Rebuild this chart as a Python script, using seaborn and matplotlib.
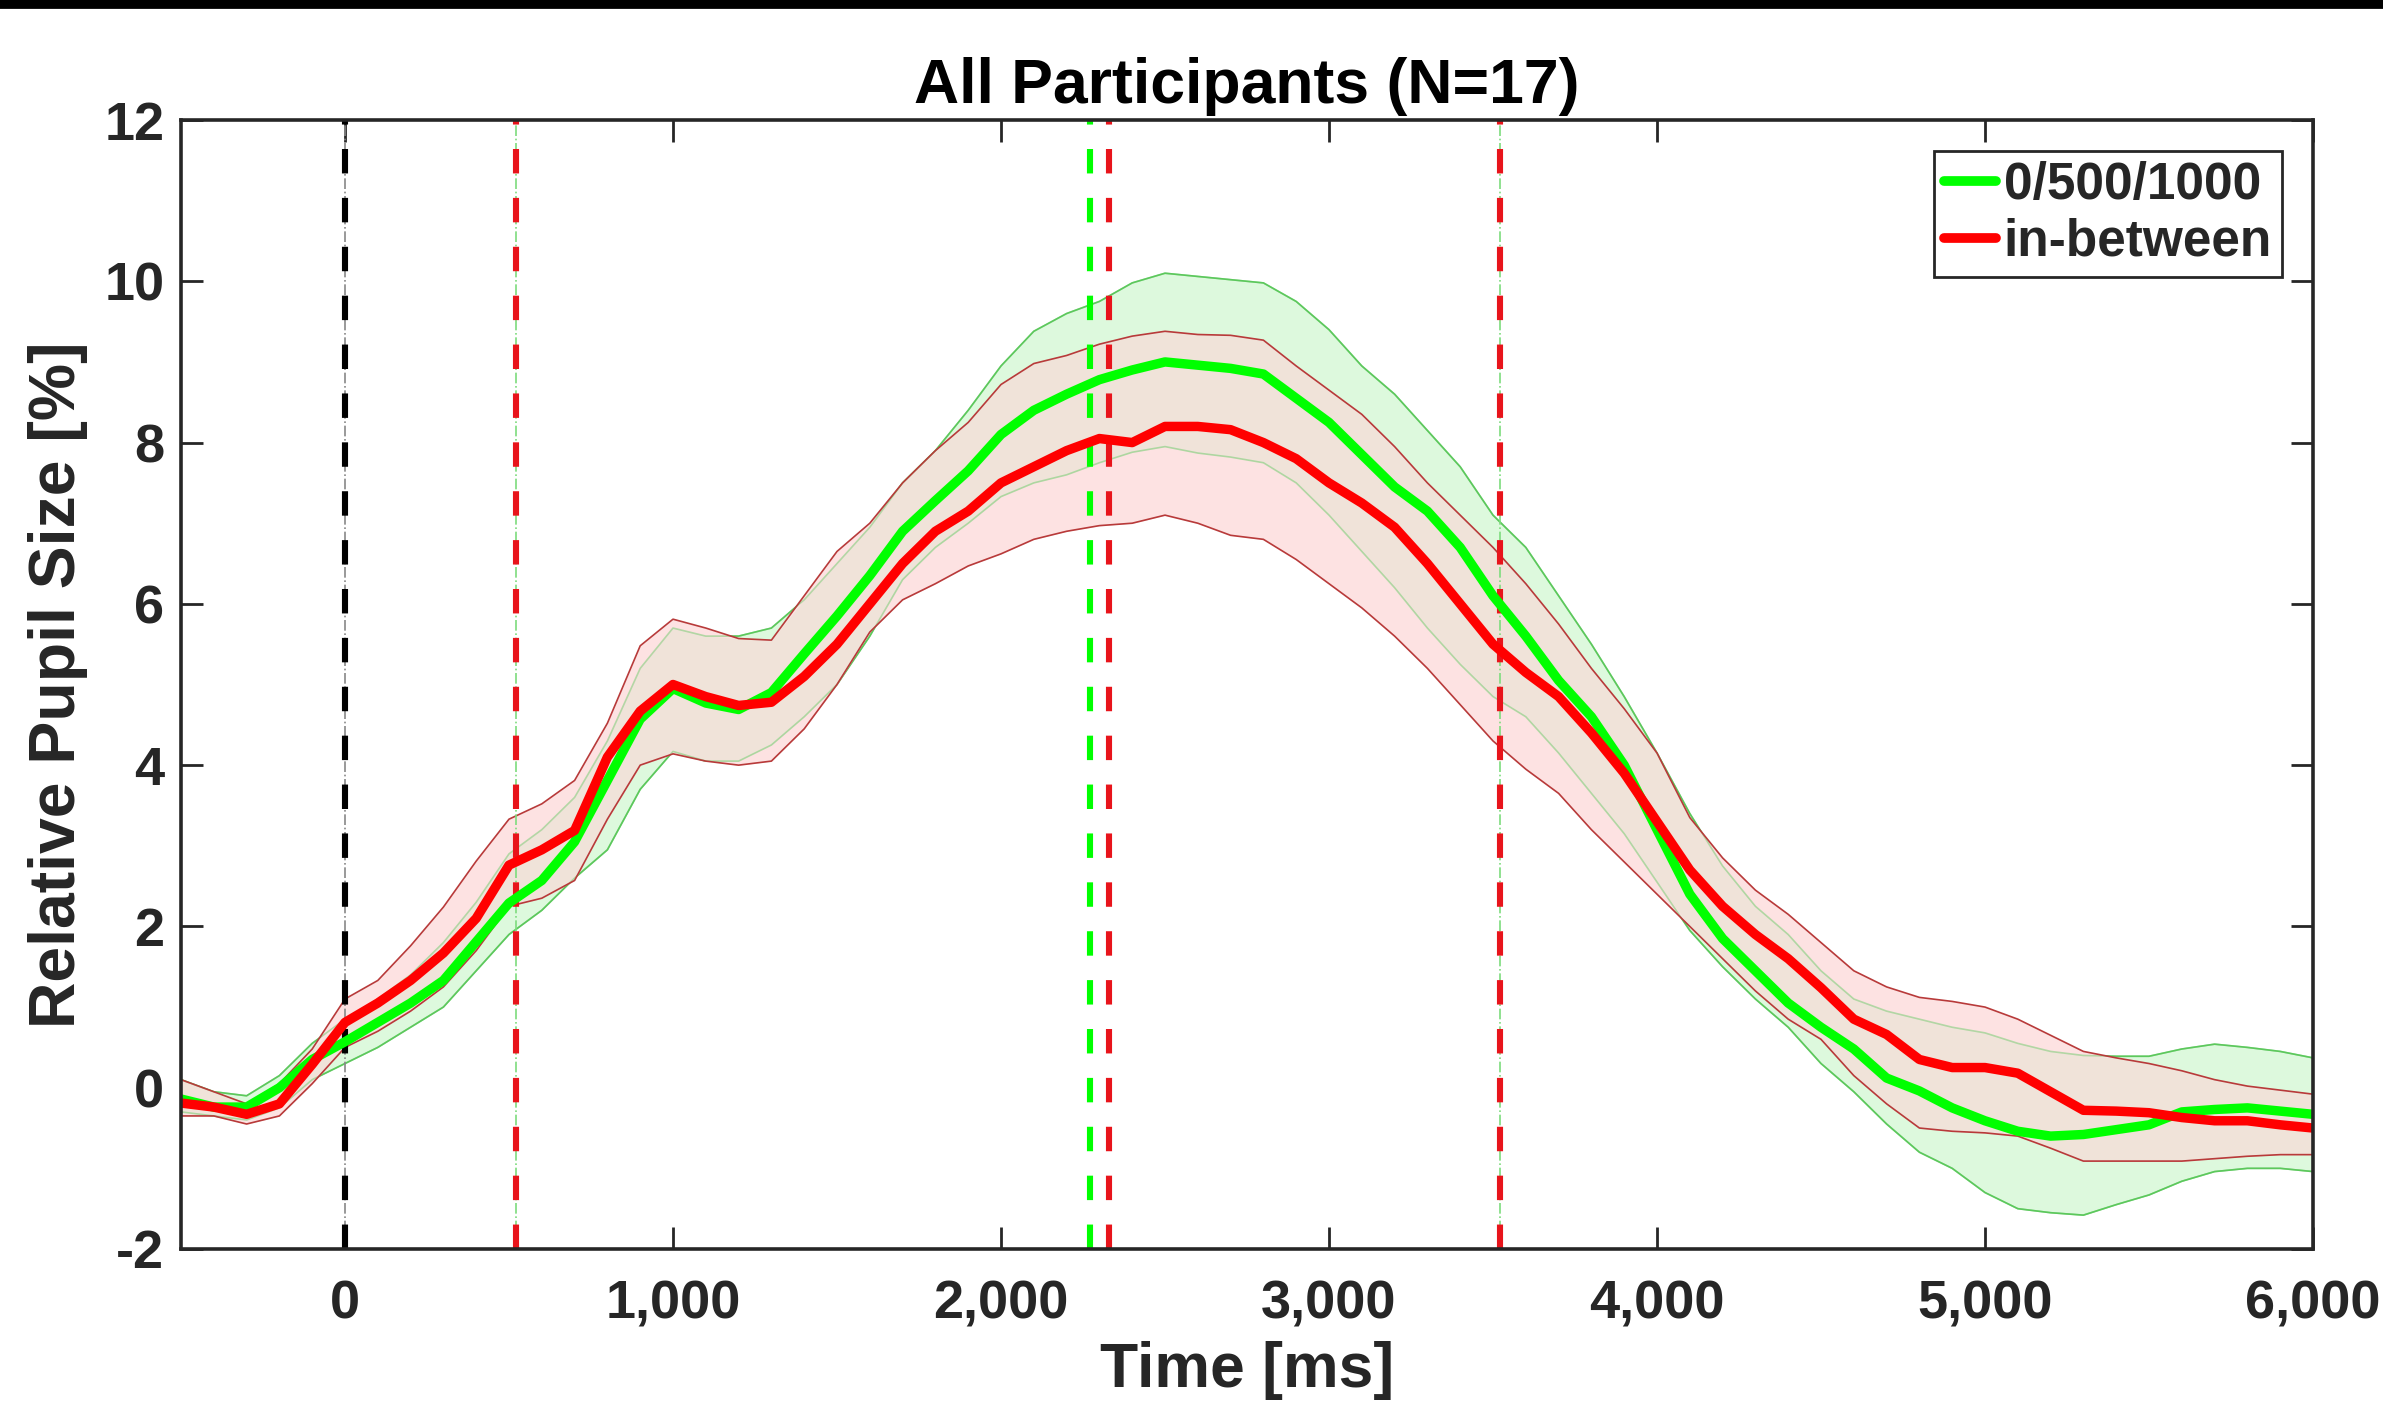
import matplotlib
matplotlib.use("Agg")
import matplotlib.pyplot as plt
from matplotlib.patches import Rectangle
from matplotlib.ticker import FuncFormatter
import numpy as np
import pandas as pd
import seaborn as sns

# time axis, one value every 100 ms
time_ms = list(range(-500, 6001, 100))

# "0/500/1000" condition
green_mean = [-0.14, -0.24, -0.24, 0.0, 0.35, 0.57, 0.81, 1.05, 1.33, 1.81, 2.29, 2.57, 3.05, 3.81, 4.57, 4.95, 4.77, 4.69,
              4.9, 5.38, 5.85, 6.35, 6.9, 7.28, 7.65, 8.1, 8.4, 8.6, 8.78, 8.9, 9.0, 8.96, 8.92, 8.85,
              8.55, 8.25, 7.85, 7.45, 7.15, 6.7, 6.1, 5.6, 5.05, 4.6, 4.0, 3.2, 2.4, 1.85, 1.45, 1.05,
              0.75, 0.48, 0.12, -0.04, -0.25, -0.41, -0.54, -0.6, -0.58, -0.52, -0.46, -0.3, -0.27, -0.25, -0.29, -0.33]
green_upper = [0.1, -0.05, -0.1, 0.15, 0.55, 0.85, 1.1, 1.4, 1.8, 2.3, 2.9, 3.2, 3.6, 4.3, 5.2, 5.7, 5.6, 5.6,
               5.7, 6.05, 6.5, 6.95, 7.5, 7.9, 8.4, 8.95, 9.38, 9.6, 9.75, 9.98, 10.1, 10.06, 10.02, 9.98,
               9.75, 9.4, 8.95, 8.6, 8.15, 7.7, 7.1, 6.7, 6.1, 5.5, 4.85, 4.15, 3.4, 2.75, 2.25, 1.9,
               1.45, 1.1, 0.95, 0.85, 0.75, 0.68, 0.55, 0.45, 0.4, 0.39, 0.39, 0.48, 0.54, 0.5, 0.45, 0.37]
green_lower = [-0.3, -0.35, -0.4, -0.25, 0.1, 0.3, 0.5, 0.75, 1.0, 1.45, 1.9, 2.2, 2.6, 2.95, 3.7, 4.17, 4.05, 4.05,
               4.25, 4.6, 5.0, 5.6, 6.3, 6.7, 7.0, 7.33, 7.5, 7.6, 7.75, 7.88, 7.95, 7.87, 7.82, 7.75,
               7.5, 7.1, 6.65, 6.2, 5.7, 5.25, 4.85, 4.6, 4.15, 3.65, 3.15, 2.55, 1.95, 1.5, 1.1, 0.75,
               0.3, -0.05, -0.45, -0.8, -1.0, -1.3, -1.5, -1.55, -1.58, -1.45, -1.33, -1.16, -1.04, -1.0, -1.0, -1.04]

# "in-between" condition
red_mean = [-0.19, -0.24, -0.33, -0.2, 0.29, 0.81, 1.05, 1.33, 1.67, 2.1, 2.76, 2.95, 3.19, 4.1, 4.67, 5.0, 4.85, 4.74,
            4.78, 5.1, 5.5, 6.0, 6.5, 6.9, 7.15, 7.5, 7.7, 7.9, 8.05, 8.0, 8.2, 8.2, 8.16, 8.0,
            7.8, 7.5, 7.25, 6.95, 6.5, 6.0, 5.5, 5.15, 4.85, 4.4, 3.9, 3.3, 2.7, 2.25, 1.9, 1.6,
            1.24, 0.85, 0.66, 0.35, 0.25, 0.25, 0.18, -0.05, -0.28, -0.29, -0.31, -0.37, -0.41, -0.41, -0.46, -0.5]
red_upper = [0.1, -0.05, -0.2, 0.05, 0.48, 1.1, 1.33, 1.76, 2.24, 2.81, 3.33, 3.52, 3.81, 4.52, 5.48, 5.81, 5.7, 5.57,
             5.55, 6.1, 6.65, 7.0, 7.5, 7.9, 8.25, 8.72, 8.98, 9.08, 9.22, 9.32, 9.38, 9.34, 9.33, 9.27,
             8.95, 8.65, 8.35, 7.95, 7.5, 7.1, 6.7, 6.25, 5.75, 5.2, 4.7, 4.15, 3.35, 2.85, 2.45, 2.15,
             1.8, 1.45, 1.25, 1.12, 1.07, 1.0, 0.85, 0.65, 0.45, 0.37, 0.3, 0.21, 0.1, 0.02, -0.03, -0.08]
red_lower = [-0.35, -0.35, -0.45, -0.35, 0.05, 0.5, 0.7, 0.95, 1.25, 1.7, 2.25, 2.35, 2.57, 3.33, 4.0, 4.14, 4.05, 4.0,
             4.05, 4.45, 5.0, 5.65, 6.05, 6.25, 6.47, 6.62, 6.8, 6.9, 6.97, 7.0, 7.1, 7.0, 6.85, 6.8,
             6.55, 6.25, 5.95, 5.6, 5.2, 4.75, 4.3, 3.95, 3.65, 3.2, 2.8, 2.4, 2.0, 1.6, 1.2, 0.85,
             0.6, 0.15, -0.2, -0.5, -0.54, -0.56, -0.6, -0.75, -0.91, -0.91, -0.91, -0.91, -0.88, -0.85, -0.83, -0.83]

# event markers (ms)
onset_ms = [0]
red_events = [520, 2330, 3520]
green_events = [2270]
thin_green_events = [520, 3520]

labels = ["0/500/1000", "in-between"]
x_ticks = [0, 1000, 2000, 3000, 4000, 5000, 6000]
y_ticks = [-2, 0, 2, 4, 6, 8, 10, 12]

GREEN = "#00ff00"
RED = "#ff0000"
DARK = "#262626"

sns.set_theme(style="ticks")
plt.rcParams["font.family"] = ["Liberation Sans", "DejaVu Sans"]
plt.rcParams["font.weight"] = "bold"
plt.rcParams["axes.unicode_minus"] = False

df = pd.DataFrame({"time": time_ms, "green": green_mean, "red": red_mean})

fig = plt.figure(figsize=(2383 / 200, 1416 / 200), dpi=200)
ax = fig.add_axes([181 / 2383, 1 - 1249 / 1416, 2132 / 2383, 1129 / 1416])

# black strip across the very top of the image
fig.patches.append(Rectangle((0, 1 - 7 / 1416), 1, 7 / 1416, transform=fig.transFigure,
                             color="black", zorder=10))

# error bands: green, pink, and their overlap
ax.fill_between(time_ms, green_lower, green_upper, color="#ddf9dd", linewidth=0, zorder=1)
ax.plot(time_ms, green_upper, color="#5cc85c", lw=0.6, zorder=1.2)
ax.plot(time_ms, green_lower, color="#5cc85c", lw=0.6, zorder=1.2)
ax.fill_between(time_ms, red_lower, red_upper, color="#fde2e2", linewidth=0, zorder=2)
ov_lo = np.maximum(green_lower, red_lower)
ov_hi = np.minimum(green_upper, red_upper)
ax.fill_between(time_ms, ov_lo, ov_hi, where=ov_hi > ov_lo, interpolate=True,
                color="#f0e3d9", linewidth=0, zorder=2.1)
ax.plot(time_ms, green_upper, color="#5cc85c", lw=0.6, alpha=0.45, zorder=2.2)
ax.plot(time_ms, green_lower, color="#5cc85c", lw=0.6, alpha=0.45, zorder=2.2)
ax.plot(time_ms, red_upper, color="#b83a3a", lw=0.6, zorder=2.5)
ax.plot(time_ms, red_lower, color="#b83a3a", lw=0.6, zorder=2.5)

# means
sns.lineplot(data=df, x="time", y="green", color=GREEN, lw=3.4, ax=ax, label=labels[0],
             sort=False, zorder=4, solid_joinstyle="round")
sns.lineplot(data=df, x="time", y="red", color=RED, lw=3.4, ax=ax, label=labels[1],
             sort=False, zorder=5, solid_joinstyle="round")

# vertical event lines
for t in onset_ms:
    ax.axvline(t, color="#888888", lw=0.6, ls="-.", zorder=3)
    ax.axvline(t, color="black", lw=2.2, dashes=(4, 4), zorder=3.2)
for t in thin_green_events:
    ax.axvline(t, color="#7ddc7d", lw=0.6, ls="-.", zorder=3)
for t in green_events:
    ax.axvline(t, color=GREEN, lw=2.2, dashes=(4, 4), zorder=3.2)
for t in red_events:
    ax.axvline(t, color="#e8141b", lw=2.2, dashes=(4, 4), zorder=3.2)

ax.set_xlim(-500, 6000)
ax.set_ylim(-2, 12)
ax.set_xticks(x_ticks)
ax.set_yticks(y_ticks)
ax.xaxis.set_major_formatter(FuncFormatter(lambda v, p: f"{int(v):,}"))

for side in ["top", "bottom", "left", "right"]:
    ax.spines[side].set_visible(True)
    ax.spines[side].set_color(DARK)
    ax.spines[side].set_linewidth(1.3)
    ax.spines[side].set_zorder(6)
ax.tick_params(direction="in", length=8, width=1.0, color=DARK, top=True, right=True,
               labelsize=19.5, labelcolor=DARK)
ax.tick_params(axis="x", pad=11)
ax.tick_params(axis="y", pad=6)
for lab in ax.get_xticklabels() + ax.get_yticklabels():
    lab.set_fontweight("bold")

ax.set_title("All Participants (N=17)", fontsize=22.5, fontweight="bold", color="black", pad=6)
ax.set_xlabel("Time [ms]", fontsize=22.5, fontweight="bold", color=DARK, labelpad=4)
ax.set_ylabel("Relative Pupil Size [%]", fontsize=23.2, fontweight="bold", color=DARK, labelpad=6)

leg = ax.legend(loc="upper right", prop={"weight": "bold", "size": 18.5}, frameon=True,
                fancybox=False, edgecolor=DARK, framealpha=1, handlelength=1.0,
                handletextpad=0.15, borderpad=0.2, labelspacing=0.15, borderaxespad=0.6)
leg.get_frame().set_linewidth(1.0)
for line in leg.get_lines():
    line.set_linewidth(3.5)
leg.set_zorder(7)

fig.savefig("out.png", dpi=200, facecolor="white")
